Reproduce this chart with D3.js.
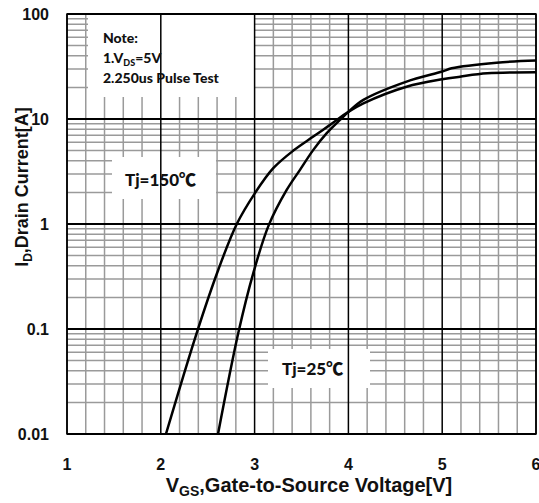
<!DOCTYPE html>
<html>
<head>
<meta charset="utf-8">
<script src="https://cdn.jsdelivr.net/npm/d3@7"></script>
<style>
  body { margin: 0; background: #fff; }
  text { font-weight: bold; fill: #111; }
  .arial { font-family: "Liberation Sans", Arial, sans-serif; }
  .note { font-family: Lato, "Noto Sans CJK SC", sans-serif; font-weight: 900; }
</style>
</head>
<body>
<div id="chart"></div>
<script>
// data
const vgs25  = [2.61, 2.826, 2.986, 3.15, 3.342, 3.484, 3.626, 3.769, 3.91, 4.00, 4.16, 4.62, 5.00, 5.10, 5.58, 6.00];
const id25   = [0.01, 0.0916, 0.341, 0.97, 2.11, 3.28, 5.08, 7.33, 9.8, 11.7, 15.2, 22.7, 28.3, 30.4, 34.4, 36.0];
const vgs150 = [2.055, 2.38, 2.613, 2.81, 3.004, 3.199, 3.413, 3.626, 3.804, 4.00, 4.16, 4.62, 5.00, 5.19, 5.48, 6.00];
const id150  = [0.01, 0.09, 0.367, 1.0, 1.97, 3.4, 5.0, 6.8, 8.79, 11.7, 14.1, 20.3, 23.9, 25.3, 27.2, 27.9];
const xTicks = [1, 2, 3, 4, 5, 6];
const yTicks = [0.01, 0.1, 1, 10, 100];
const yTickLabels = ["0.01", "0.1", "1", "10", "100"];

// set the dimensions and margins of the graph
const margin = {top: 14, right: 3, bottom: 69, left: 67},
    width = 539 - margin.left - margin.right,
    height = 503 - margin.top - margin.bottom;

const svg = d3.select("#chart")
  .append("svg")
    .attr("width", width + margin.left + margin.right)
    .attr("height", height + margin.top + margin.bottom)
  .append("g")
    .attr("transform", `translate(${margin.left}, ${margin.top})`);

const x = d3.scaleLinear().domain([1, 6]).range([0, width]);
const y = d3.scaleLog().domain([0.01, 100]).range([height, 0]);

// minor grid
const minorX = d3.range(1, 6.001, 0.2).filter(v => Math.abs(v - Math.round(v)) > 1e-6);
const minorY = [];
[0.01, 0.1, 1, 10].forEach(d => { for (let k = 2; k <= 9; k++) minorY.push(d * k); });

const grid = svg.append("g");
grid.selectAll(".mx").data(minorX).join("line")
  .attr("x1", d => x(d)).attr("x2", d => x(d))
  .attr("y1", 0).attr("y2", height)
  .attr("stroke", "#9a9a9a").attr("stroke-width", 1.5);
grid.selectAll(".my").data(minorY).join("line")
  .attr("x1", 0).attr("x2", width)
  .attr("y1", d => y(d)).attr("y2", d => y(d))
  .attr("stroke", "#9a9a9a").attr("stroke-width", 1.5);

// white boxes behind labels
svg.append("rect").attr("x", 88 - margin.left).attr("y", 0).attr("width", 166).attr("height", 83).attr("fill", "#fff");
svg.append("rect").attr("x", 112 - margin.left).attr("y", 157 - margin.top).attr("width", 104).attr("height", 42).attr("fill", "#fff");
svg.append("rect").attr("x", 268 - margin.left).attr("y", 349 - margin.top).attr("width", 102).attr("height", 39).attr("fill", "#fff");

// major grid
svg.append("g").selectAll("line").data(xTicks).join("line")
  .attr("x1", d => x(d)).attr("x2", d => x(d))
  .attr("y1", 0).attr("y2", height)
  .attr("stroke", "#000").attr("stroke-width", 1.5);
svg.append("g").selectAll("line").data(yTicks).join("line")
  .attr("x1", 0).attr("x2", width)
  .attr("y1", d => y(d)).attr("y2", d => y(d))
  .attr("stroke", "#000").attr("stroke-width", 2.2);
svg.append("rect").attr("width", width).attr("height", height)
  .attr("fill", "none").attr("stroke", "#000").attr("stroke-width", 1.5);

// tick labels
svg.append("g").selectAll("text").data(xTicks).join("text")
  .attr("class", "arial")
  .attr("x", d => x(d)).attr("y", height + 36)
  .attr("text-anchor", "middle").style("font-size", "16px")
  .text(d => d);
svg.append("g").selectAll("text").data(yTicks).join("text")
  .attr("class", "arial")
  .attr("x", -18).attr("y", d => y(d) + 6)
  .attr("text-anchor", "end").style("font-size", "16px")
  .text((d, i) => yTickLabels[i]);

// axis titles
const xt = svg.append("text").attr("class", "arial")
  .attr("x", 309 - margin.left).attr("y", height + 58)
  .attr("text-anchor", "middle").style("font-size", "20px");
xt.append("tspan").text("V");
xt.append("tspan").attr("dy", 4).style("font-size", "14px").text("GS");
xt.append("tspan").attr("dy", -4).text(",Gate-to-Source Voltage[V]");

const yt = svg.append("text").attr("class", "arial")
  .attr("transform", `translate(${28 - margin.left}, ${187 - margin.top}) rotate(-90)`)
  .attr("text-anchor", "middle").style("font-size", "18px");
yt.append("tspan").text("I");
yt.append("tspan").attr("dy", 4).style("font-size", "12px").text("D");
yt.append("tspan").attr("dy", -4).text(",Drain Current[A]");

// note
const noteX = 103 - margin.left;
svg.append("text").attr("class", "note").attr("x", noteX).attr("y", 43 - margin.top)
  .style("font-size", "14px").text("Note:");
const n1 = svg.append("text").attr("class", "note").attr("x", noteX).attr("y", 63 - margin.top)
  .style("font-size", "14px");
n1.append("tspan").text("1.V");
n1.append("tspan").attr("dy", 3).style("font-size", "9px").text("DS");
n1.append("tspan").attr("dy", -3).text("=5V");
svg.append("text").attr("class", "note").attr("x", noteX).attr("y", 83 - margin.top)
  .style("font-size", "14px").text("2.250us Pulse Test");

// curve labels
svg.append("text").attr("class", "note").attr("x", 125 - margin.left).attr("y", 186 - margin.top)
  .style("font-size", "17px").text("Tj=150℃");
svg.append("text").attr("class", "note").attr("x", 282 - margin.left).attr("y", 375 - margin.top)
  .style("font-size", "17px").text("Tj=25℃");

// curves
const line = d3.line()
  .x(d => x(d[0])).y(d => y(d[1]))
  .curve(d3.curveCatmullRom.alpha(0.5));
const series = [d3.zip(vgs25, id25), d3.zip(vgs150, id150)];
svg.append("g").selectAll("path").data(series).join("path")
  .attr("d", line)
  .attr("fill", "none").attr("stroke", "#000").attr("stroke-width", 2.5);
</script>
</body>
</html>
